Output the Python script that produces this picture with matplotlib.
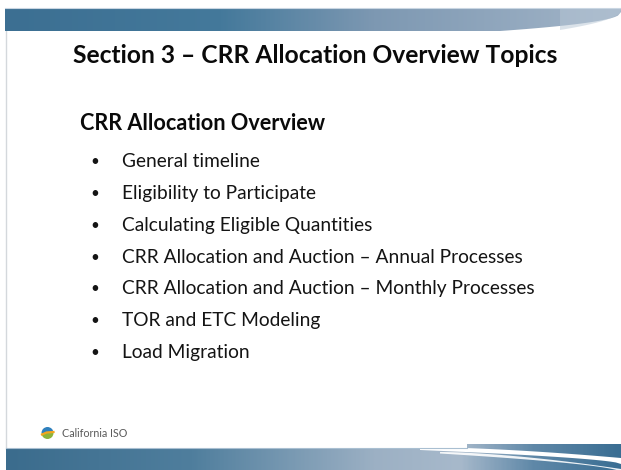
import matplotlib
matplotlib.use("Agg")
import matplotlib.pyplot as plt
from matplotlib.colors import LinearSegmentedColormap
from matplotlib.patches import Polygon, Wedge
import numpy as np

################################################################
title = "Section 3 \u2013 CRR Allocation Overview Topics"
subtitle = "CRR Allocation Overview"
topics = [
    "General timeline",
    "Eligibility to Participate",
    "Calculating Eligible Quantities",
    "CRR Allocation and Auction \u2013 Annual Processes",
    "CRR Allocation and Auction \u2013 Monthly Processes",
    "TOR and ETC Modeling",
    "Load Migration",
]
logo_text = "California ISO"
################################################################

W, H = 621, 470
plt.rcParams['font.family'] = ['Lato', 'DejaVu Sans']

fig = plt.figure(figsize=(W / 100, H / 100), dpi=100)
ax = fig.add_axes([0, 0, 1, 1])
ax.set_xlim(0, W)
ax.set_ylim(H, 0)
ax.axis('off')


def gradient_fill(verts, x0, x1, y0, y1, stops, z=1):
    # horizontal gradient clipped to a polygon
    cmap = LinearSegmentedColormap.from_list('g', stops)
    img = np.linspace(0, 1, 400).reshape(1, -1)
    im = ax.imshow(img, cmap=cmap, extent=(x0, x1, y1, y0), aspect='auto',
                   interpolation='bilinear', zorder=z)
    poly = Polygon(verts, closed=True, facecolor='none', edgecolor='none')
    ax.add_patch(poly)
    im.set_clip_path(poly)


def curve(xa, ya, xb, yb, n=40, p=1.6):
    t = np.linspace(0, 1, n)
    return np.column_stack([xa + (xb - xa) * t, ya + (yb - ya) * t ** p])


def fit_text(x, y, s, width, **kw):
    # scale the font so the text spans the measured width
    t = ax.text(x, y, s, fontsize=20, va='baseline', **kw)
    fig.canvas.draw()
    w = t.get_window_extent().width
    t.set_fontsize(20 * width / w)
    return t


# left border
ax.plot([5.5, 5.5], [31, 449], color='#d4d8dc', lw=1, zorder=0)

# top band
top_edge = [(5, 8), (621, 8)]
bottom_edge = [(621, 12)] + [tuple(p) for p in curve(621, 12, 500, 31, p=0.45)[1:]] + [(5, 31)]
gradient_fill(top_edge + bottom_edge, 5, 621, 8, 31,
              [(0, '#3c6f92'), (0.35, '#44799b'), (0.6, '#7d98b2'), (1, '#a3b5c8')])
lite = np.vstack([curve(560, 8, 621, 8, n=2), curve(621, 10, 560, 30, p=0.5)])
ax.add_patch(Polygon(lite, closed=True, facecolor='#b7c6d5', edgecolor='none', alpha=0.5, zorder=2))
ax.plot([5, 621], [8.3, 8.3], color='#c9d6e2', lw=0.8, zorder=3)

# bottom band
bot = np.vstack([[(6, 448), (467, 448), (467, 444), (621, 444), (621, 470), (6, 470)]])
gradient_fill(bot, 6, 621, 444, 470,
              [(0, '#3b6c8d'), (0.3, '#4f7e9d'), (0.6, '#9cb0c4'), (0.74, '#a7b9cb'),
               (0.86, '#5f88a8'), (1, '#3a6e93')])
s1 = np.vstack([curve(420, 447, 621, 458), curve(621, 464, 420, 450, p=0.6)])
ax.add_patch(Polygon(s1, closed=True, facecolor='white', edgecolor='none', zorder=3))
s2 = np.vstack([curve(440, 452, 621, 469), curve(621, 472, 440, 453.5, p=0.6)])
ax.add_patch(Polygon(s2, closed=True, facecolor='white', edgecolor='none', alpha=0.9, zorder=3))
ax.plot([6, 467], [448.3, 448.3], color='#a9bfd1', lw=0.8, zorder=3)

# logo
ax.add_patch(Wedge((47.5, 433), 6, 180, 360, facecolor='#2f80bd', edgecolor='none', zorder=4))
ax.add_patch(Wedge((47.5, 433), 6, 0, 180, facecolor='#8db33a', edgecolor='none', zorder=4))
ax.plot([42, 46.5, 53.5], [434.5, 432.5, 432], color='#f3a51f', lw=1.6, zorder=5)
fit_text(62, 437, logo_text, 66, color='#5a5a5a')

# texts
fit_text(73, 63, title, 486, fontweight='bold', color='#0a0a0a')
fit_text(80, 130, subtitle, 245, fontweight='bold', color='#0a0a0a')

ref = fit_text(122, 230, topics[2], 251, color='#141414')
size = ref.get_fontsize()
ref.remove()
for i, item in enumerate(topics):
    y = 167 + i * 31.85
    ax.text(95, y - 1, "\u2022", fontsize=size * 0.8, color='#141414', ha='center', va='baseline')
    ax.text(122, y, item, fontsize=size, color='#141414', va='baseline')

fig.savefig("out.png", dpi=100)
